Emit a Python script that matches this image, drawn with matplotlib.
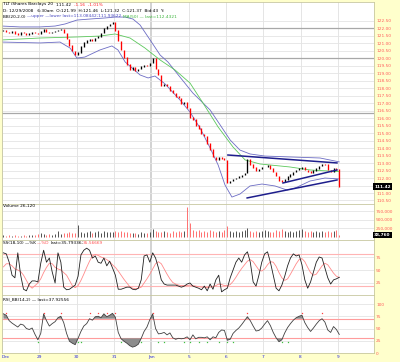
import matplotlib
matplotlib.use('Agg')
import matplotlib.pyplot as plt
from matplotlib.ticker import FuncFormatter
import numpy as np

# ---- data (30 min bars, 13 per session) ----
day_labels = ["Dec", "29", "30", "31", "Jan", "5", "6", "7", "8", "9"]
bars_per_day = 13

closes = [121.85, 121.75, 121.70, 121.80, 121.65, 121.60, 121.72, 121.68, 121.58, 121.66, 121.75, 121.70, 121.62,
          121.80, 121.92, 121.78, 121.70, 121.76, 121.82, 121.90, 121.95, 121.70, 121.30, 120.85, 120.50, 120.25,
          120.40, 120.80, 121.05, 121.20, 121.30, 121.20, 121.35, 121.45, 121.70, 122.00, 122.15, 122.30, 122.40,
          121.85, 121.15, 120.55, 120.05, 119.60, 119.25, 119.40, 119.20, 119.30, 119.45, 119.55, 119.50, 119.70,
          120.00, 119.30, 118.90, 118.20, 118.30, 118.15, 117.85, 117.70, 117.45, 117.35, 116.95, 117.05, 116.70,
          116.05, 115.90, 115.50, 115.30, 114.95, 114.80, 114.30, 113.90, 113.40, 113.25, 113.40, 113.30, 113.20,
          111.70, 111.80, 111.95, 112.00, 112.10, 112.20, 112.35, 113.25, 112.90, 112.70, 112.50, 112.60, 112.75,
          112.75, 112.85, 112.65, 112.40, 112.15, 111.85, 111.75, 111.90, 112.10, 112.25, 112.40, 112.55, 112.65,
          112.75, 112.55, 112.45, 112.35, 112.50, 112.65, 112.80, 112.95, 112.90, 112.55, 112.45, 112.65, 112.58,
          111.42]

volume_k = [40, 25, 30, 20, 35, 25, 20, 30, 25, 40, 35, 30, 60,
            90, 60, 50, 70, 45, 60, 170, 80, 90, 100, 120, 90, 110,
            330, 140, 100, 120, 150, 110, 130, 160, 110, 170, 120, 130, 140,
            150, 130, 160, 120, 140, 100, 90, 110, 80, 120, 100, 90, 130,
            220, 150, 140, 120, 160, 130, 110, 150, 130, 170, 140, 160, 860,
            400, 180, 150, 200, 130, 160, 120, 190, 150, 140, 170, 130, 180,
            310, 170, 140, 160, 130, 150, 180, 260, 150, 140, 160, 130, 150,
            200, 160, 140, 130, 180, 150, 220, 170, 140, 160, 130, 150, 180,
            210, 160, 130, 150, 140, 170, 120, 160, 140, 150, 130, 170, 190,
            39]

# Bollinger bands / moving average (bar index, price)
upper_bar = [-0.5, 5.8, 12.7, 18, 21.5, 25.6, 30.2, 35.4, 38.9, 42.4, 45.1, 47.6, 51.1, 54.6, 57.3,
             61.5, 66, 72, 75.5, 79, 82.4, 85.9, 91.1, 99.8, 110.3, 117]
upper_val = [122.16, 122.10, 122.10, 122.16, 122.30, 122.56, 122.63, 122.70, 122.76, 122.76, 122.63,
             122.23, 121.23, 120.22, 119.76, 118.75, 117.68, 116.55, 115.55, 114.54, 113.87, 113.61,
             113.47, 113.41, 113.34, 113.08]
lower_bar = [-0.5, 12.7, 19.7, 23.2, 25.6, 28.4, 33.6, 37.8, 39.9, 42.4, 44.8, 47.6, 50.4, 52.8, 56.3,
             61.5, 65, 68.5, 72, 74.8, 77.2, 79.6, 82.4, 85.9, 90.1, 94.6, 98.8, 101.6, 106.8, 112, 117]
lower_val = [121.09, 121.03, 121.09, 120.69, 120.02, 120.09, 120.56, 120.83, 120.56, 119.76, 119.36,
             118.89, 118.69, 118.82, 118.29, 117.22, 116.41, 115.34, 114.01, 112.87, 111.53, 110.73,
             110.93, 111.47, 111.60, 111.47, 111.20, 111.33, 111.80, 112.00, 111.94]
ma_bar = [-0.5, 12.7, 25.6, 33.6, 38.9, 44.1, 49.3, 54.6, 59.8, 65, 69.5, 74.8, 80, 84.2, 89.4, 99.8, 106.8, 117]
ma_val = [121.23, 121.36, 121.43, 121.49, 121.63, 121.36, 120.69, 119.89, 119.22, 118.35, 117.02,
          115.41, 114.07, 113.21, 112.94, 112.74, 112.54, 112.43]

# hand-drawn trend lines (start bar, start price, end bar, end price)
trend_lines = [(78.2, 113.54, 116.2, 113.01),
               (84.9, 110.67, 116.2, 111.87),
               (97.4, 111.67, 116.2, 112.54)]
ref_lines = [122.0, 120.0, 116.33]

stoch_k = [83, 81, 65, 40, 35, 83, 40, 13, 10, 23, 29, 29, 27,
           63, 88, 65, 73, 46, 25, 83, 65, 17, 12, 13, 17, 21,
           38, 79, 88, 92, 88, 73, 77, 65, 63, 73, 58, 67, 54,
           40, 13, 13, 15, 17, 17, 13, 12, 15, 31, 77, 79, 65,
           83, 73, 54, 31, 23, 21, 21, 21, 21, 19, 17, 19, 23,
           25, 19, 17, 15, 12, 19, 10, 23, 13, 31, 40, 8, 12,
           15, 35, 50, 65, 73, 65, 79, 85, 65, 27, 19, 40, 65,
           81, 85, 65, 40, 15, 10, 21, 38, 58, 73, 81, 77, 79,
           60, 31, 15, 27, 46, 65, 75, 73, 54, 35, 23, 31, 33,
           36]
stoch_d = [56, 62, 62, 58, 52, 50, 47, 40, 30, 20, 15, 20, 25,
           33, 45, 55, 63, 62, 55, 52, 50, 45, 40, 30, 20, 16,
           20, 30, 42, 55, 67, 77, 80, 78, 75, 73, 70, 66, 60,
           55, 48, 40, 32, 25, 18, 15, 14, 15, 17, 25, 33, 42,
           52, 62, 66, 62, 52, 42, 33, 26, 23, 21, 20, 20, 20,
           21, 20, 19, 18, 17, 17, 16, 17, 18, 20, 23, 22, 20,
           20, 22, 28, 36, 45, 53, 60, 67, 70, 66, 58, 50, 48,
           52, 60, 66, 65, 57, 45, 35, 30, 33, 42, 52, 62, 70,
           72, 66, 55, 45, 40, 42, 50, 58, 63, 60, 52, 44, 38,
           35.6]
rsi = [80, 77, 66, 61, 57, 53, 59, 57, 50, 48, 51, 38, 27,
       40, 80, 66, 55, 60, 64, 72, 75, 62, 40, 24, 20, 17,
       30, 44, 55, 60, 70, 67, 74, 75, 72, 80, 74, 77, 81,
       73, 42, 29, 24, 20, 15, 12, 14, 18, 30, 44, 53, 68,
       80, 50, 39, 40, 42, 37, 41, 31, 28, 30, 29, 30, 33,
       27, 37, 29, 32, 32, 31, 33, 27, 33, 31, 42, 47, 46,
       26, 28, 40, 46, 51, 58, 66, 74, 66, 55, 45, 46, 51,
       59, 66, 56, 42, 31, 23, 27, 41, 52, 60, 67, 72, 75,
       77, 62, 52, 44, 51, 59, 66, 70, 63, 47, 42, 54, 48,
       37.9]
rsi_high_marks = [1, 14, 20, 30, 33, 36, 39, 52, 85, 104, 111]
rsi_low_marks = [12, 26, 27, 41, 48, 54, 56, 63, 65, 68, 71, 75, 78, 80, 97, 99]

# ---- figure ----
W, H = 400, 362
BG = '#FFFFCC'
FS = 3.1
fig = plt.figure(figsize=(W / 100, H / 100), dpi=100, facecolor=BG)

x = np.arange(len(closes))
c = np.array(closes)
o = np.r_[c[0], c[:-1]]
down = c < o
n_days = len(day_labels)
day_edges = np.arange(n_days) * bars_per_day - 0.5
xlim = (-0.5, 129.1)


def panel(y0, y1, ylim):
    ax = fig.add_axes([2 / W, 1 - y1 / H, 372 / W, (y1 - y0) / H])
    ax.set_facecolor('white')
    ax.set_xlim(*xlim)
    ax.set_ylim(*ylim)
    ax.yaxis.tick_right()
    ax.tick_params(axis='y', length=0, pad=1.5, labelsize=FS, labelcolor='#FF5A5A')
    ax.tick_params(axis='x', length=0, labelbottom=False)
    for s in ax.spines.values():
        s.set_color('#C8C8A0')
        s.set_linewidth(0.6)
    for i, e in enumerate(day_edges):
        if day_labels[i] == "Jan":
            ax.axvline(e, color='#D2D2D2', lw=1.4, zorder=0)
        else:
            ax.axvline(e, color='#E0E0E0', lw=0.6, zorder=0)
    return ax


def last_box(ax, val, text):
    ax.text(1.0, val, text, transform=ax.get_yaxis_transform(), ha='left', va='center',
            fontsize=FS, color='white', fontweight='bold', clip_on=False, zorder=10,
            bbox=dict(boxstyle='square,pad=0.3', fc='black', ec='none'))


# price panel
axp = panel(2, 204, (110.265, 123.767))
pticks = np.arange(110.5, 122.51, 0.5)
for t in pticks:
    axp.axhline(t, color='#E4E4E4', lw=0.6, zorder=0)
# the last-price box covers the 111.50 label
axp.set_yticks([t for t in pticks if abs(t - closes[-1]) > 0.2])
axp.yaxis.set_major_formatter(FuncFormatter(lambda v, p: f"{v:.2f}"))
for r in ref_lines:
    axp.axhline(r, color='#A8A8A8', lw=0.9, zorder=0.5)
axp.plot(upper_bar, upper_val, color='#6C6CC4', lw=0.6, zorder=2)
axp.plot(lower_bar, lower_val, color='#6C6CC4', lw=0.6, zorder=2)
axp.plot(ma_bar, ma_val, color='#5CC85C', lw=0.6, zorder=2)
lo = np.minimum(o, c) - 0.015
hi = np.maximum(o, c) + 0.015
axp.vlines(x, lo, hi, colors=np.where(down, '#FF0000', '#000000'), lw=0.95, zorder=3)
for x0, y0, x1, y1 in trend_lines:
    axp.plot([x0, x1], [y0, y1], color='#1E1E8C', lw=1.1, zorder=4)
last_box(axp, closes[-1], f"{closes[-1]:.2f}")

# volume panel
axv = panel(204, 240, (-102.9, 955.9))
vt = [250, 500, 750]
axv.set_yticks(vt)
axv.yaxis.set_major_formatter(FuncFormatter(lambda v, p: f"{int(v * 1000):,}"))
for t in vt:
    axv.axhline(t, color='#E4E4E4', lw=0.6, zorder=0)
axv.vlines(x, 0, volume_k, colors=np.where(down, '#FF7070', '#505050'), lw=0.7, zorder=2)
last_box(axv, volume_k[-1], "38,760")

# slow stochastics panel
axs = panel(240, 295, (1.92, 107.7))
axs.set_yticks([25, 50, 75])
axs.yaxis.set_major_formatter(FuncFormatter(lambda v, p: f"{int(v)}"))
for t in [25, 50, 75]:
    axs.axhline(t, color='#E4E4E4', lw=0.6, zorder=0)
for t in [20, 80]:
    axs.axhline(t, color='#FFB4B4', lw=0.8, zorder=1)
axs.plot(x, stoch_d, color='#FF8A8A', lw=0.6, zorder=2)
axs.plot(x, stoch_k, color='#202020', lw=0.6, zorder=3)

# RSI panel
axr = panel(295, 353.25, (-0.5, 118.4))
rt = [0, 25, 50, 75, 100]
axr.set_yticks(rt)
axr.yaxis.set_major_formatter(FuncFormatter(lambda v, p: f"{int(v)}"))
for t in rt[1:]:
    axr.axhline(t, color='#E4E4E4', lw=0.6, zorder=0)
for t in [30, 70]:
    axr.axhline(t, color='#FF9C9C', lw=0.8, zorder=1)
r = np.array(rsi)
axr.fill_between(x, r, 30, where=r < 30, interpolate=True, color='#8C8C8C', lw=0, zorder=2)
axr.fill_between(x, r, 70, where=r > 70, interpolate=True, color='#8C8C8C', lw=0, zorder=2)
axr.plot(x, r, color='#404040', lw=0.6, zorder=3)
axr.plot(rsi_high_marks, [82] * len(rsi_high_marks), 's', color='#FF4040', ms=0.9, mew=0, zorder=4)
axr.plot(rsi_low_marks, [22] * len(rsi_low_marks), 's', color='#40C040', ms=0.9, mew=0, zorder=4)
axr.set_xticks(day_edges)
axr.set_xticklabels(day_labels)
axr.tick_params(axis='x', labelbottom=True, labelsize=FS, labelcolor='#2020E0', pad=1.5)
axr.get_xticklabels()[0].set_ha('left')

# ---- header / panel titles (multi-coloured runs) ----
renderer = fig.canvas.get_renderer()


def run(x_px, y_px, parts):
    for s, col in parts:
        t = fig.text(x_px / W, 1 - y_px / H, s, color=col, fontsize=FS, ha='left', va='center')
        x_px += t.get_window_extent(renderer).width


run(3, 4.5, [("TLT iShares Barclays 20  ", 'black'), ("111.42  ", 'black'), ("-1.16  -1.01%", '#FF2020')])
run(3, 10.5, [("D: 12/29/2008   6:30am  O:121.99  H:121.46  L:121.32  C:121.37  Bid:43  Y:", 'black')])
run(3, 16.5, [("BB(20,2.0) ", 'black'), ("\u2014upper \u2014lower last=113.08442;111.93622 ", '#4848C0'),
              ("MA(50) \u2014 last=112.4321", '#3CB43C')])
run(3, 206.5, [("Volume 26,120", 'black')])
run(3, 242.5, [("SS(18,10) \u2014%K ", 'black'), ("\u2014%D ", '#FF5050'), ("last=35.79336;", 'black'),
               ("35.56669", '#FF5050')])
run(3, 299.5, [("RSI_BB(14,2) \u2014 last=37.92556", 'black')])

fig.savefig('out.png', dpi=100, facecolor=BG)
